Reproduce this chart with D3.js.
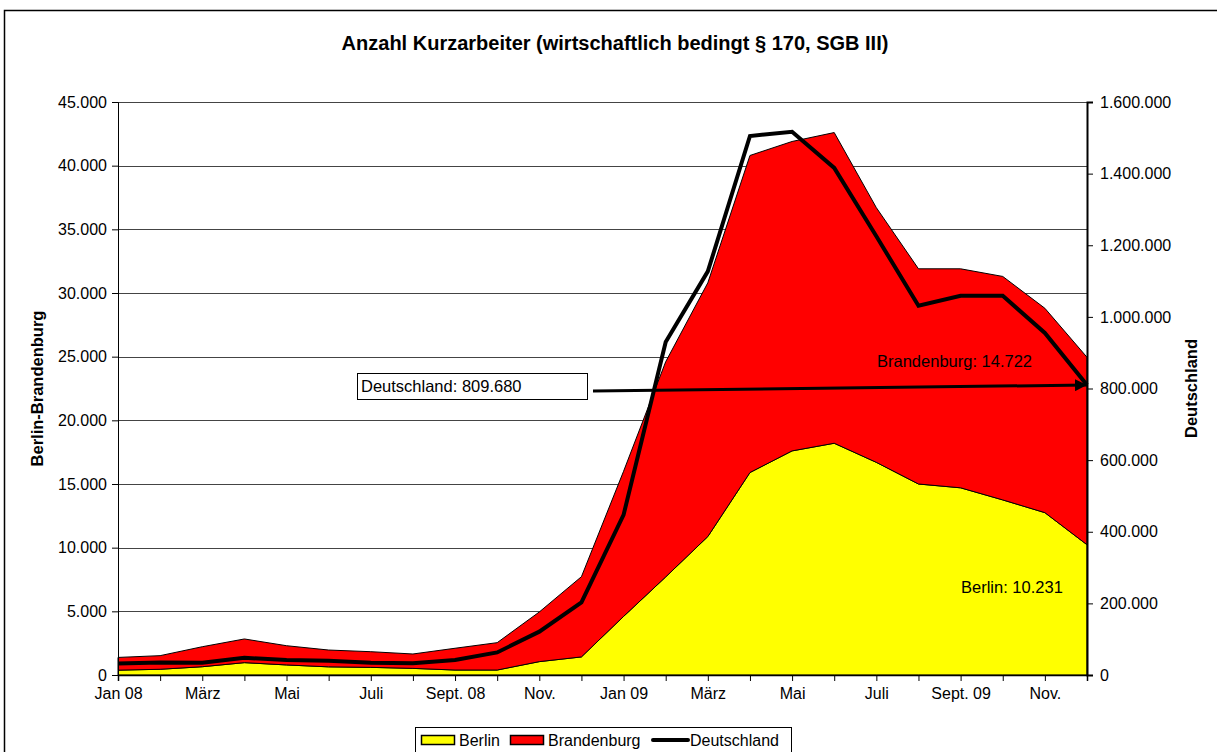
<!DOCTYPE html>
<html>
<head>
<meta charset="utf-8">
<script src="https://cdnjs.cloudflare.com/ajax/libs/d3/7.8.5/d3.min.js"></script>
<style>
  body { margin: 0; background: #fff; }
  svg { font-family: "Liberation Sans", Arial, sans-serif; }
  .axis text { font-size: 16px; fill: #000; }
  .axis path, .axis line { stroke: #000; }
</style>
</head>
<body>
<div id="chart"></div>
<script>
// months of 2008 and 2009
var months = ["Jan 08", "Feb 08", "Mrz 08", "Apr 08", "Mai 08", "Jun 08",
  "Jul 08", "Aug 08", "Sep 08", "Okt 08", "Nov 08", "Dez 08",
  "Jan 09", "Feb 09", "Mrz 09", "Apr 09", "Mai 09", "Jun 09",
  "Jul 09", "Aug 09", "Sep 09", "Okt 09", "Nov 09", "Dez 09"];

// only every second month gets a label
var tickLabels = ["Jan 08", "", "März", "", "Mai", "", "Juli", "", "Sept. 08", "", "Nov.", "",
  "Jan 09", "", "März", "", "Mai", "", "Juli", "", "Sept. 09", "", "Nov.", ""];

var berlin = [380, 450, 650, 970, 790, 640, 600, 520, 390, 390, 1050, 1420,
  4600, 7700, 10870, 15900, 17600, 18200, 16700, 15000, 14700, 13750, 12750, 10231];

var brandenburg = [1000, 1070, 1570, 1860, 1510, 1320, 1230, 1130, 1710, 2150, 3900, 6300,
  11400, 16900, 19930, 24900, 24300, 24400, 20000, 16900, 17200, 17550, 16050, 14722];

var deutschland = [32000, 35000, 34500, 48000, 42000, 40000, 34500, 32700, 42000, 63000, 121000, 203000,
  447000, 930000, 1127000, 1505000, 1517000, 1416000, 1225000, 1031000, 1059000, 1059000, 955000, 809680];

var leftTicks = [0, 5000, 10000, 15000, 20000, 25000, 30000, 35000, 40000, 45000];
var rightTicks = [0, 200000, 400000, 600000, 800000, 1000000, 1200000, 1400000, 1600000];

var svgWidth = 1217;
var svgHeight = 752;

var margin = { top: 102, right: 130, bottom: 77, left: 118 };
var width = svgWidth - margin.left - margin.right;
var height = svgHeight - margin.top - margin.bottom;

// german number format 1.600.000
var fmt = d3.formatLocale({ decimal: ",", thousands: ".", grouping: [3], currency: ["", "€"] }).format(",d");

var svg = d3.select("#chart")
  .append("svg")
  .attr("width", svgWidth)
  .attr("height", svgHeight);

// outer chart frame (runs off the right and bottom edge)
svg.append("rect")
  .attr("x", 4.5)
  .attr("y", 10.5)
  .attr("width", 1230)
  .attr("height", 760)
  .attr("fill", "#fff")
  .attr("stroke", "#000")
  .attr("stroke-width", 1.5);

svg.append("text")
  .attr("x", 615)
  .attr("y", 50)
  .attr("text-anchor", "middle")
  .attr("font-size", "20px")
  .attr("font-weight", "bold")
  .text("Anzahl Kurzarbeiter (wirtschaftlich bedingt § 170, SGB III)");

var chartGroup = svg.append("g")
  .attr("transform", `translate(${margin.left}, ${margin.top})`);

// scales
var x = d3.scalePoint()
  .domain(months)
  .range([0, width]);

var yLeft = d3.scaleLinear()
  .domain([0, 45000])
  .range([height, 0]);

var yRight = d3.scaleLinear()
  .domain([0, 1600000])
  .range([height, 0]);

// gridlines
chartGroup.selectAll("line.grid")
  .data(leftTicks.slice(1))
  .enter()
  .append("line")
  .attr("class", "grid")
  .attr("x1", 0)
  .attr("x2", width)
  .attr("y1", d => Math.round(yLeft(d)) + 0.5)
  .attr("y2", d => Math.round(yLeft(d)) + 0.5)
  .attr("stroke", "#444")
  .attr("stroke-width", 1);

// stacked areas
var rows = months.map(function (m, i) {
  return { month: m, berlin: berlin[i], brandenburg: brandenburg[i] };
});
var stack = d3.stack().keys(["berlin", "brandenburg"]);
var series = stack(rows);
var colors = { berlin: "#ffff00", brandenburg: "#ff0000" };

var area = d3.area()
  .x(d => x(d.data.month))
  .y0(d => yLeft(d[0]))
  .y1(d => yLeft(d[1]));

chartGroup.selectAll("path.area")
  .data(series)
  .enter()
  .append("path")
  .attr("class", "area")
  .attr("d", area)
  .attr("fill", d => colors[d.key])
  .attr("stroke", "#000")
  .attr("stroke-width", 1);

// Deutschland line on right axis
var line = d3.line()
  .x((d, i) => x(months[i]))
  .y(d => yRight(d));

chartGroup.append("path")
  .datum(deutschland)
  .attr("d", line)
  .attr("fill", "none")
  .attr("stroke", "#000")
  .attr("stroke-width", 4)
  .attr("stroke-linejoin", "miter");

// axes
var xAxis = d3.axisBottom(x)
  .tickSize(6)
  .tickPadding(7)
  .tickFormat((d, i) => tickLabels[i]);

var xg = chartGroup.append("g")
  .attr("class", "axis")
  .attr("transform", `translate(0, ${height})`)
  .call(xAxis);
xg.select(".domain").attr("stroke-width", 1.5);

chartGroup.append("g")
  .attr("class", "axis")
  .call(d3.axisLeft(yLeft).tickValues(leftTicks).tickSize(6).tickPadding(5).tickFormat(fmt));

var rg = chartGroup.append("g")
  .attr("class", "axis")
  .attr("transform", `translate(${width}, 0)`)
  .call(d3.axisRight(yRight).tickValues(rightTicks).tickSize(6).tickPadding(7).tickFormat(fmt));
rg.select(".domain").attr("stroke-width", 2);

// axis titles
chartGroup.append("text")
  .attr("transform", "rotate(-90)")
  .attr("x", -height / 2)
  .attr("y", -75)
  .attr("text-anchor", "middle")
  .attr("font-size", "16.5px")
  .attr("font-weight", "bold")
  .text("Berlin-Brandenburg");

chartGroup.append("text")
  .attr("transform", "rotate(-90)")
  .attr("x", -height / 2)
  .attr("y", width + 110)
  .attr("text-anchor", "middle")
  .attr("font-size", "16.5px")
  .attr("font-weight", "bold")
  .text("Deutschland");

// annotations
var last = months.length - 1;

svg.append("defs").append("marker")
  .attr("id", "arrow")
  .attr("viewBox", "0 0 10 10")
  .attr("refX", 10)
  .attr("refY", 5)
  .attr("markerWidth", 4)
  .attr("markerHeight", 4)
  .attr("orient", "auto")
  .append("path")
  .attr("d", "M0,0L10,5L0,10Z")
  .attr("fill", "#000");

chartGroup.append("line")
  .attr("x1", 475)
  .attr("y1", 289)
  .attr("x2", x(months[last]))
  .attr("y2", yRight(deutschland[last]))
  .attr("stroke", "#000")
  .attr("stroke-width", 3)
  .attr("marker-end", "url(#arrow)");

chartGroup.append("rect")
  .attr("x", 239.5)
  .attr("y", 271.5)
  .attr("width", 230)
  .attr("height", 26)
  .attr("fill", "#fff")
  .attr("stroke", "#000");

chartGroup.append("text")
  .attr("x", 243)
  .attr("y", 290)
  .attr("font-size", "16.5px")
  .text("Deutschland: " + fmt(deutschland[last]));

chartGroup.append("text")
  .attr("x", 759)
  .attr("y", 265)
  .attr("font-size", "16.5px")
  .text("Brandenburg: " + fmt(brandenburg[last]));

chartGroup.append("text")
  .attr("x", 843)
  .attr("y", 491)
  .attr("font-size", "16.5px")
  .text("Berlin: " + fmt(berlin[last]));

// legend
var legend = svg.append("g")
  .attr("transform", "translate(415, 727)");

legend.append("rect")
  .attr("x", 0.5)
  .attr("y", 0.5)
  .attr("width", 376)
  .attr("height", 40)
  .attr("fill", "#fff")
  .attr("stroke", "#000");

var legendItems = [
  { name: "Berlin", type: "box", color: colors.berlin, x: 6 },
  { name: "Brandenburg", type: "box", color: colors.brandenburg, x: 95 },
  { name: "Deutschland", type: "line", color: "#000", x: 237 }
];

legendItems.forEach(function (d) {
  if (d.type === "box") {
    legend.append("rect")
      .attr("x", d.x + 0.5)
      .attr("y", 8.5)
      .attr("width", 33)
      .attr("height", 9)
      .attr("fill", d.color)
      .attr("stroke", "#000")
      .attr("stroke-width", 1.5);
  } else {
    legend.append("line")
      .attr("x1", d.x + 1)
      .attr("x2", d.x + 36)
      .attr("y1", 13)
      .attr("y2", 13)
      .attr("stroke", d.color)
      .attr("stroke-width", 4)
      .attr("stroke-linecap", "round");
  }
  legend.append("text")
    .attr("x", d.x + 38)
    .attr("y", 19)
    .attr("font-size", "16px")
    .text(d.name);
});
</script>
</body>
</html>
